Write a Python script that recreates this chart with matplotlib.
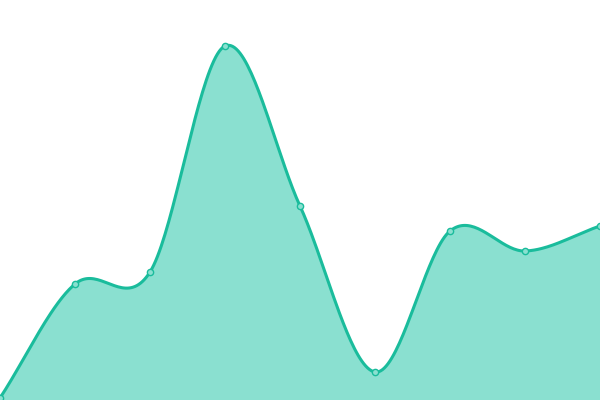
import numpy as np
import matplotlib
matplotlib.use('Agg')
import matplotlib.pyplot as plt

# data
x_vals = [0, 1, 2, 3, 4, 5, 6, 7, 8]
y_vals = [2, 116, 128, 354, 194, 28, 169, 149, 174]

line_color = '#1abc9c'
fill_color = '#8ae0d0'


def cardinal(xs, ys, k=0.5, n=40):
    # cubic hermite segments, tangents scaled by k
    xs = np.asarray(xs, float)
    ys = np.asarray(ys, float)
    px = np.concatenate([[2 * xs[0] - xs[1]], xs, [2 * xs[-1] - xs[-2]]])
    py = np.concatenate([[2 * ys[0] - ys[1]], ys, [2 * ys[-1] - ys[-2]]])
    t = np.linspace(0, 1, n, endpoint=False)
    h00 = 2 * t ** 3 - 3 * t ** 2 + 1
    h10 = t ** 3 - 2 * t ** 2 + t
    h01 = -2 * t ** 3 + 3 * t ** 2
    h11 = t ** 3 - t ** 2
    out_x, out_y = [], []
    for i in range(1, len(px) - 2):
        for p, out in ((px, out_x), (py, out_y)):
            m1 = k * (p[i + 1] - p[i - 1])
            m2 = k * (p[i + 2] - p[i])
            out.extend(h00 * p[i] + h10 * m1 + h01 * p[i + 1] + h11 * m2)
    out_x.append(xs[-1])
    out_y.append(ys[-1])
    return np.array(out_x), np.array(out_y)


sx, sy = cardinal(x_vals, y_vals)

fig = plt.figure(figsize=(6, 4), dpi=100)
ax = fig.add_axes([0, 0, 1, 1])
ax.fill_between(sx, sy, 0, color=fill_color, lw=0)
ax.plot(sx, sy, color=line_color, lw=2.2, solid_capstyle='round')
ax.plot(x_vals, y_vals, 'o', ms=4.5, mfc=fill_color, mec=line_color, mew=1)
ax.set_xlim(0, 8)
ax.set_ylim(0, 400)
ax.axis('off')

fig.savefig('out.png', dpi=100)
